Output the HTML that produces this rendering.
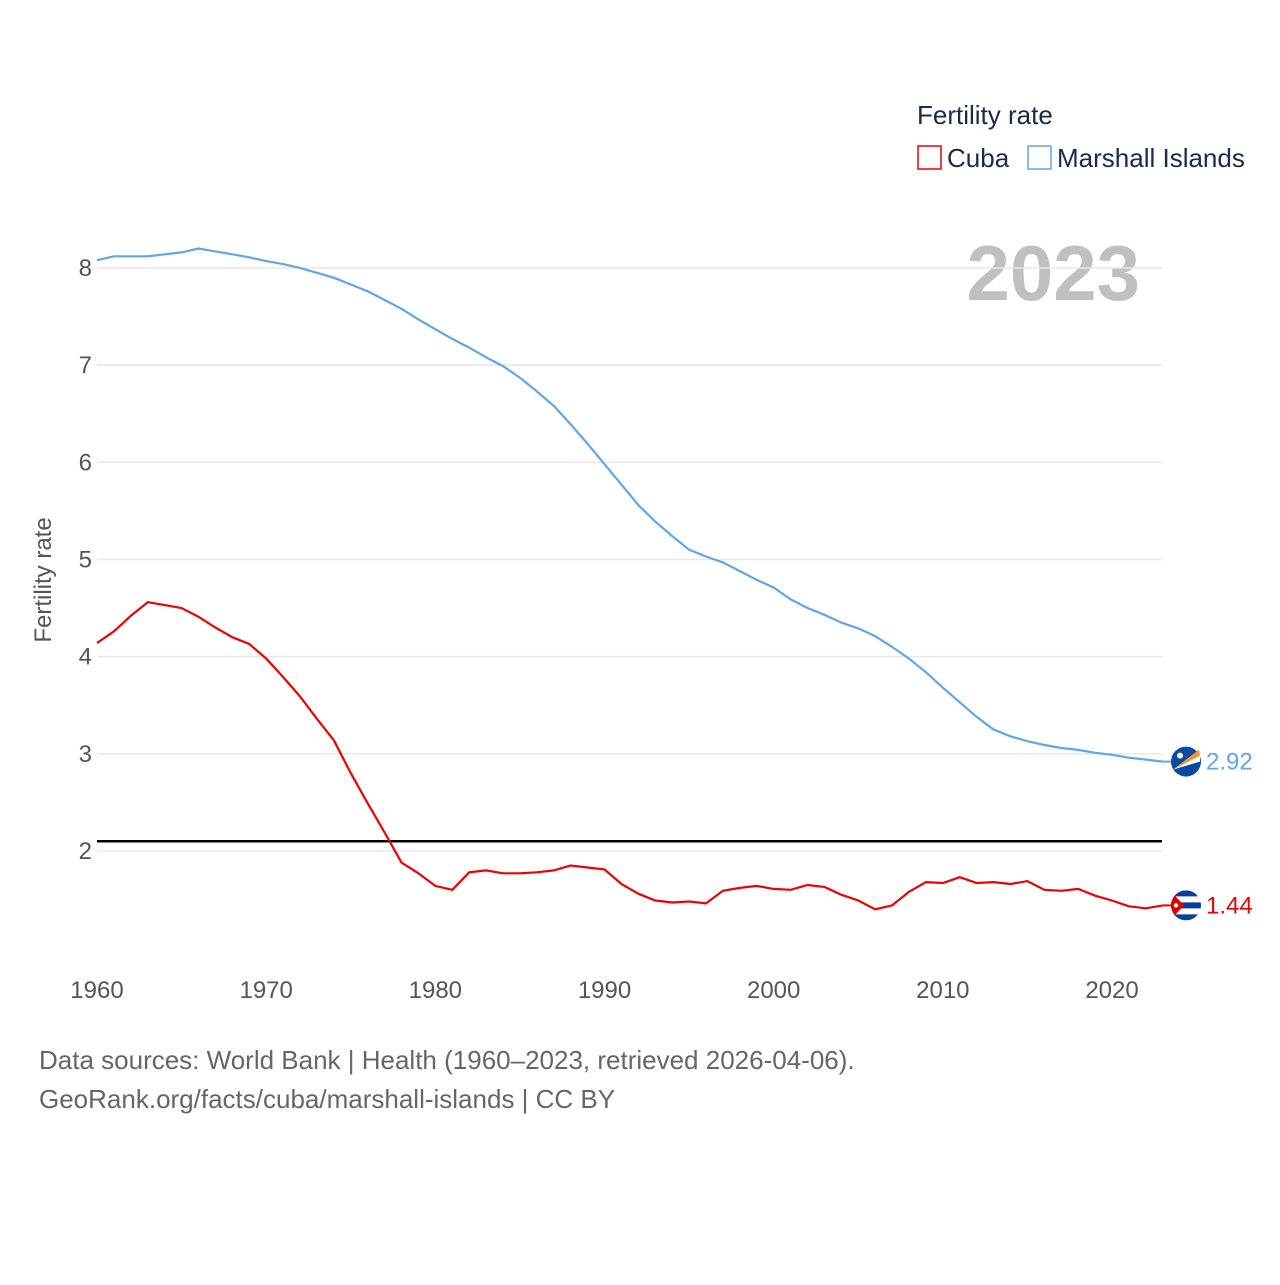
<!DOCTYPE html>
<html><head><meta charset="utf-8"><style>
body{margin:0;background:#fff;font-family:"Liberation Sans",sans-serif}
svg text{font-family:"Liberation Sans",sans-serif}
</style></head><body>
<svg id="chart" width="1280" height="1280" xmlns="http://www.w3.org/2000/svg">
<defs><clipPath id="cubaclip"><circle id="cubacirc" cx="1186" cy="905" r="15"/></clipPath></defs>
<g>
<text x="917" y="124" font-size="26" fill="#1a2a4a">Fertility rate</text>
<rect x="918" y="146" width="23" height="23" fill="none" stroke="#e00" stroke-width="1.5"/>
<text x="947" y="167" font-size="26" fill="#1a2a4a">Cuba</text>
<rect x="1028" y="146" width="23" height="23" fill="none" stroke="#5ea6ee" stroke-width="1.5"/>
<text x="1057" y="167" font-size="26" fill="#1a2a4a">Marshall Islands</text>
</g>
<text x="1140" y="300" font-size="78" font-weight="bold" fill="#c0c0c0" text-anchor="end">2023</text>
<g id="grid"></g><g id="yt"></g><g id="xt"></g>
<text transform="translate(51,580) rotate(-90)" font-size="24" fill="#555" text-anchor="middle">Fertility rate</text>
<g id="series"></g>
<text x="39" y="1069" font-size="26" fill="#666">Data sources: World Bank | Health (1960–2023, retrieved 2026-04-06).</text>
<text x="39" y="1108" font-size="26" fill="#666">GeoRank.org/facts/cuba/marshall-islands | CC BY</text>
</svg>
<script>
const years=[];for(let y=1960;y<=2023;y++)years.push(y);
const marshall=[8.08,8.12,8.12,8.12,8.14,8.16,8.20,8.17,8.14,8.11,8.07,8.04,8.00,7.95,7.90,7.83,7.76,7.67,7.58,7.47,7.37,7.27,7.18,7.08,6.99,6.87,6.73,6.58,6.39,6.19,5.98,5.77,5.56,5.39,5.24,5.10,5.03,4.97,4.88,4.79,4.71,4.59,4.50,4.43,4.35,4.29,4.21,4.10,3.98,3.84,3.68,3.53,3.38,3.25,3.18,3.13,3.09,3.06,3.04,3.01,2.99,2.96,2.94,2.92];
const cuba=[4.14,4.26,4.42,4.56,4.53,4.50,4.41,4.30,4.20,4.13,3.98,3.79,3.59,3.36,3.14,2.80,2.49,2.19,1.88,1.77,1.64,1.60,1.78,1.80,1.77,1.77,1.78,1.80,1.85,1.83,1.81,1.66,1.56,1.49,1.47,1.48,1.46,1.59,1.62,1.64,1.61,1.60,1.65,1.63,1.55,1.49,1.40,1.44,1.58,1.68,1.67,1.73,1.67,1.68,1.66,1.69,1.60,1.59,1.61,1.54,1.49,1.43,1.41,1.44];
const yTicks=[2,3,4,5,6,7,8];
const xTicks=[1960,1970,1980,1990,2000,2010,2020];
const refValue=2.1;
const X=y=>97+(y-1960)*16.917, Y=v=>1045.3-v*97.17;
const NS='http://www.w3.org/2000/svg';
function mk(t,a,p){const e=document.createElementNS(NS,t);for(const k in a)e.setAttribute(k,a[k]);p.appendChild(e);return e;}
const grid=document.getElementById('grid'),yt=document.getElementById('yt'),xt=document.getElementById('xt'),ser=document.getElementById('series');
yTicks.forEach(v=>{
 const l=mk('line',{x1:97,x2:1162,y1:Y(v),y2:Y(v),stroke:'#e8e8e8','stroke-width':1.5},grid);
 
 
 const t=mk('text',{x:92,y:Y(v)+8,'font-size':24,fill:'#555','text-anchor':'end'},yt);t.textContent=v;
 
 
});
xTicks.forEach(v=>{
 const t=mk('text',{x:X(v),y:998,'font-size':24,fill:'#555','text-anchor':'middle'},xt);t.textContent=v;
 
 
});
const ref=mk('line',{x1:97,x2:1162,y1:Y(refValue),y2:Y(refValue),stroke:'#000','stroke-width':2.5},ser);


function line(data,color,name){
 const d=data.map((v,i)=>(i?'L':'M')+X(years[i]).toFixed(1)+','+Y(v).toFixed(1)).join('');
 const p=mk('path',{d:d,fill:'none',stroke:color,'stroke-width':2.2},ser);
 
 
 const last=data[data.length-1],cx=1186,cy=Y(last);
 mk('line',{x1:X(2023),x2:cx,y1:cy,y2:cy,stroke:color,'stroke-width':2},ser);
 const g=mk('g',{},ser);
 
 
 if(name==='cuba'){
  const c=document.getElementById('cubacirc');c.setAttribute('cy',cy);
  const f=mk('g',{'clip-path':'url(#cubaclip)'},g);
  mk('rect',{x:cx-15,y:cy-15,width:30,height:30,fill:'#fff'},f);
  for(let k=0;k<3;k++)mk('rect',{x:cx-15,y:cy-15+k*12,width:30,height:6,fill:'#0a3d9c'},f);
  mk('path',{d:`M${cx-16},${cy-15}L${cx-2},${cy}L${cx-16},${cy+15}Z`,fill:'#d00'},f);
  mk('circle',{cx:cx-10,cy:cy,r:2.2,fill:'#fff'},f);
 }else{
  mk('circle',{cx:cx,cy:cy,r:15,fill:'#0a4aa0'},g);
  mk('path',{d:`M${cx-13},${cy+8}L${cx+13},${cy-12}L${cx+14},${cy-6}Z`,fill:'#f39a20'},g);
  mk('path',{d:`M${cx-13},${cy+8}L${cx+14},${cy-6}L${cx+14},${cy}Z`,fill:'#fff'},g);
  mk('circle',{cx:cx-6,cy:cy-6,r:3,fill:'#fff'},g);
 }
 const t=mk('text',{x:1206,y:cy+8,'font-size':24,fill:color},ser);t.textContent=last.toFixed(2);
 
 
}
line(marshall,'#5ea6ee','marshall-islands');
line(cuba,'#f00000','cuba');
</script>
</body></html>
